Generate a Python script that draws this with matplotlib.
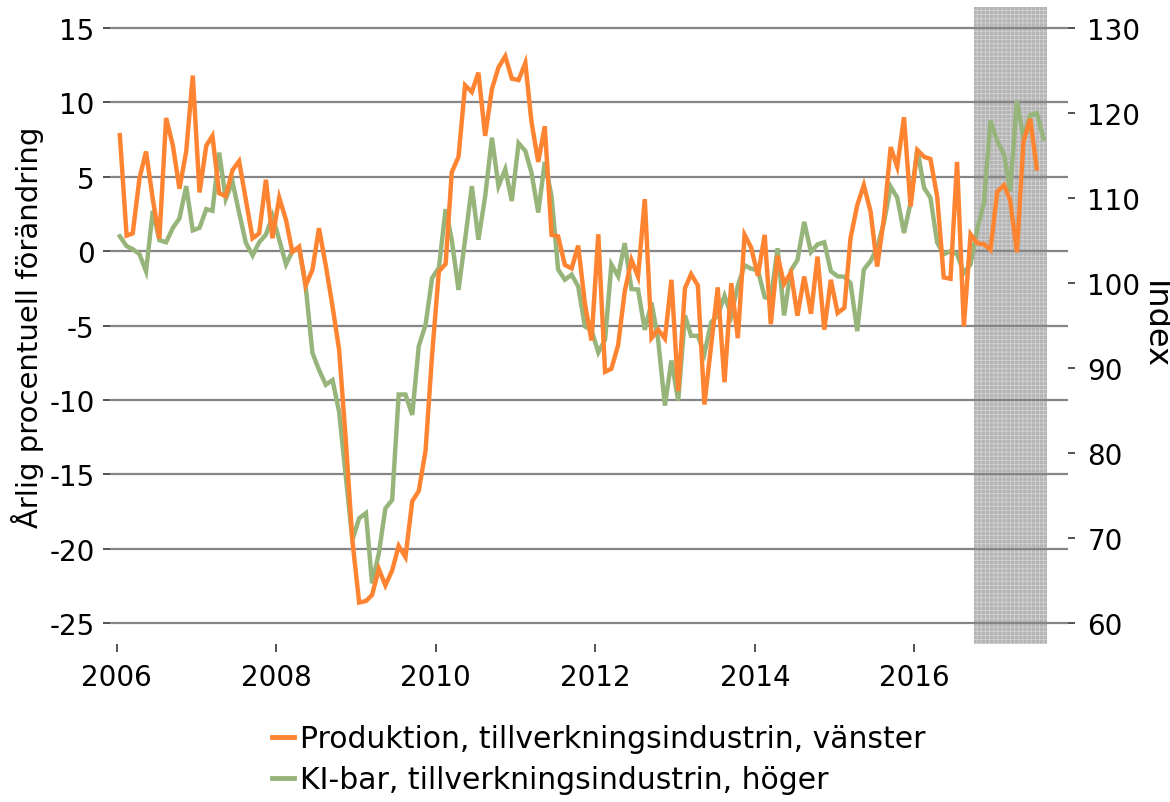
import numpy as np
import pandas as pd
import matplotlib
matplotlib.use("Agg")
import matplotlib.pyplot as plt
from matplotlib.lines import Line2D
from matplotlib.transforms import blended_transform_factory

# ---------------- data ----------------
produktion = [
    7.8, 1.05, 1.2, 4.9, 6.7, 3.5, 0.83, 8.95, 7.1, 4.2, 6.7, 11.8,            # 2006
    3.95, 7.1, 7.75, 3.9, 3.7, 5.45, 6.05, 3.45, 0.87, 1.2, 4.8, 0.87,          # 2007
    3.6, 2.1, -0.05, 0.3, -2.3, -1.25, 1.55, -0.95, -3.7, -6.6, -12.75, -19.45, # 2008
    -23.6, -23.5, -23.1, -21.35, -22.45, -21.45, -19.8, -20.55, -16.8, -16.1, -13.4, -6.95,  # 2009
    -1.36, -0.85, 5.3, 6.35, 11.15, 10.7, 12.0, 7.75, 10.9, 12.35, 13.1, 11.6,  # 2010
    11.5, 12.65, 8.7, 6.0, 8.4, 1.1, 1.0, -0.92, -1.15, 0.38, -3.55, -6.0,      # 2011
    1.14, -8.1, -7.9, -6.3, -2.7, -0.58, -1.7, 3.5, -5.83, -5.27, -5.87, -1.92, # 2012
    -9.4, -2.48, -1.54, -2.3, -10.3, -6.3, -2.43, -8.8, -2.15, -5.84, 1.1, 0.25,# 2013
    -1.65, 1.1, -4.9, -0.3, -2.2, -1.43, -4.33, -1.7, -4.2, -0.36, -5.27, -1.92,# 2014
    -4.15, -3.8, 0.87, 3.1, 4.44, 2.66, -1.03, 2.2, 7.0, 5.67, 9.0, 3.0,        # 2015
    6.8, 6.34, 6.2, 3.66, -1.76, -1.85, 6.0, -5.05, 1.14, 0.54, 0.47, 0.09,     # 2016
    4.0, 4.44, 3.44, -0.07, 7.35, 8.9, 5.56,                                    # 2017
]

ki_bar = [
    105.5, 104.35, 104.0, 103.4, 101.4, 108.5, 105.05, 104.8, 106.5, 107.6, 111.4, 106.2,   # 2006
    106.5, 108.7, 108.5, 115.35, 109.9, 111.9, 108.3, 104.75, 103.25, 104.8, 105.7, 107.9,  # 2007
    105.1, 102.2, 103.75, 104.15, 99.6, 91.8, 89.8, 88.05, 88.6, 84.9, 77.25, 69.8,         # 2008
    72.35, 72.95, 64.7, 68.2, 73.5, 74.5, 86.9, 86.9, 84.5, 92.6, 95.1, 100.6,              # 2009
    101.8, 108.7, 105.1, 99.2, 105.1, 111.4, 105.1, 110.2, 117.1, 111.4, 113.4, 109.65,     # 2010
    116.45, 115.55, 113.0, 108.3, 114.25, 110.2, 101.6, 100.4, 101.0, 99.6, 94.9, 94.5,     # 2011
    91.85, 93.35, 102.2, 100.8, 104.7, 99.3, 99.25, 94.5, 97.7, 93.35, 85.6, 90.9,          # 2012
    86.2, 96.2, 93.8, 93.8, 91.7, 95.4, 96.2, 98.5, 96.2, 99.7, 102.1, 101.7,               # 2013
    101.5, 98.35, 98.15, 104.1, 96.2, 101.5, 102.7, 107.2, 103.65, 104.55, 104.8, 101.4,    # 2014
    100.8, 100.75, 100.0, 94.35, 101.6, 102.6, 104.15, 107.1, 111.35, 110.05, 105.9, 109.45,# 2015
    115.75, 111.2, 110.05, 104.75, 103.4, 103.75, 103.4, 101.2, 102.2, 106.3, 109.45, 119.1,# 2016
    116.7, 115.15, 110.8, 121.45, 117.1, 119.75, 120.0, 117.0,                              # 2017
]

dates_prod = pd.date_range("2006-01-01", periods=len(produktion), freq="MS") + pd.Timedelta(days=14)
dates_ki = pd.date_range("2006-01-01", periods=len(ki_bar), freq="MS") + pd.Timedelta(days=14)

label_prod = "Produktion, tillverkningsindustrin, vänster"
label_ki = "KI-bar, tillverkningsindustrin, höger"

left_ticks = [-25, -20, -15, -10, -5, 0, 5, 10, 15]
right_ticks = [60, 70, 80, 90, 100, 110, 120, 130]
year_ticks = [2006, 2008, 2010, 2012, 2014, 2016]
shade_start, shade_end = "2016-10-01", "2017-08-31"

# ---------------- style ----------------
ORANGE = "#FF8431"
GREEN = "#97B57B"
GRID = "#858585"
FS = 20

plt.rcParams["font.family"] = ["DejaVu Sans"]
plt.rcParams["hatch.linewidth"] = 0.6

fig = plt.figure(figsize=(11.7, 8.03), dpi=100)
ax = fig.add_axes([110 / 1170, 1 - 645 / 803, (1068 - 110) / 1170, (645 - 8) / 803])
ax2 = ax.twinx()

ax.set_ylim(-26.39, 16.41)
ax2.set_ylim(57.56, 132.47)
ax.set_xlim(pd.Timestamp("2005-12-01"), pd.Timestamp("2017-12-05"))

# shading (forecast period)
ax2.axvspan(pd.Timestamp(shade_start), pd.Timestamp(shade_end), facecolor="#b4b4b4",
            edgecolor="#d2d2d2", hatch="++++", linewidth=0, zorder=0)

# gridlines at left ticks, drawn in ax2 below the lines
trans = blended_transform_factory(ax2.transAxes, ax.transData)
ax2.hlines(left_ticks, 0, 1, transform=trans, colors=GRID, linewidth=1.6, zorder=1)

ax2.plot(dates_ki, ki_bar, color=GREEN, linewidth=3.2, zorder=3, solid_joinstyle="miter")
ax.plot(dates_prod, produktion, color=ORANGE, linewidth=3.2, zorder=3, solid_joinstyle="miter")

ax.set_zorder(ax2.get_zorder() + 1)
ax.patch.set_visible(False)

for a in (ax, ax2):
    for s in a.spines.values():
        s.set_visible(False)

ax.set_yticks(left_ticks)
ax.set_yticklabels([str(v) for v in left_ticks])
ax2.set_yticks(right_ticks)
ax.set_xticks([pd.Timestamp(f"{y}-01-01") for y in year_ticks])
ax.set_xticklabels([str(y) for y in year_ticks])

ax.tick_params(axis="y", length=5, width=1.2, pad=6, labelsize=FS, color="#333333")
ax.tick_params(axis="x", length=6, width=1.2, pad=8, labelsize=FS, color="#333333")
ax2.tick_params(axis="y", length=5, width=1.2, pad=9, labelsize=FS, color="#333333")

fig.text(28 / 1170, 1 - 327 / 803, "Årlig procentuell förändring", rotation=90,
         ha="center", va="center", fontsize=21)
fig.text(1154 / 1170, 1 - 325 / 803, "Index", rotation=270,
         ha="center", va="center", fontsize=23)

handles = [Line2D([], [], color=ORANGE, linewidth=3.5),
           Line2D([], [], color=GREEN, linewidth=3.5)]
fig.legend(handles, [label_prod, label_ki], loc="center left",
           bbox_to_anchor=(272 / 1170, 1 - 760 / 803), frameon=False,
           fontsize=21.5, handlelength=0.75, handletextpad=0.2,
           labelspacing=0.4, borderpad=0, borderaxespad=0)

fig.savefig("out.png", dpi=100)
